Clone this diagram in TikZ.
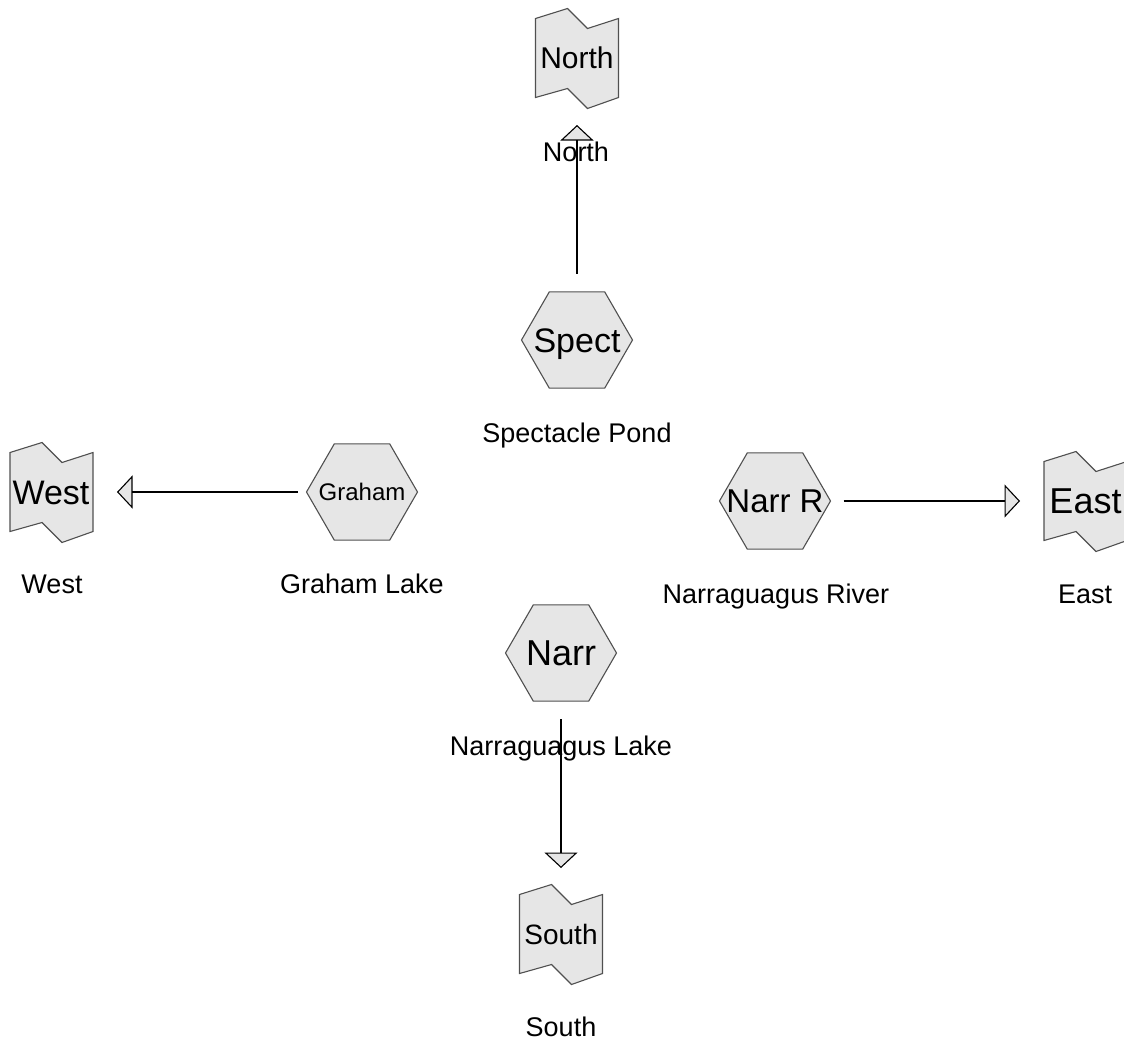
\documentclass[tikz,border=0pt]{standalone}
\usepackage{fontspec}
\setmainfont{Liberation Sans}
\usetikzlibrary{shapes.geometric,arrows.meta,backgrounds}
\definecolor{shapefill}{HTML}{E6E6E6}
\definecolor{shapeline}{HTML}{505050}
\newcommand\fs[1]{\fontsize{#1}{#1}\selectfont}
\newcommand\tapeoutline[1]{%
  \begin{pgfonlayer}{background}
  \filldraw[tapeline] ([shift={(-41.5,-39.5)}]#1.center) -- ([shift={(-9.5,-49.5)}]#1.center)
    -- ([shift={(10.5,-29.5)}]#1.center) -- ([shift={(41.5,-39.5)}]#1.center)
    -- ([shift={(41.5,39.5)}]#1.center) -- ([shift={(10.5,50.5)}]#1.center)
    -- ([shift={(-9.5,30.5)}]#1.center) -- ([shift={(-41.5,39.5)}]#1.center) -- cycle;
  \end{pgfonlayer}}
\begin{document}
\begin{tikzpicture}[x=1pt,y=-1pt,
  hex/.style={regular polygon, regular polygon sides=6, minimum size=111pt, inner sep=0pt, outer sep=0pt,
    draw=shapeline, fill=shapefill, line width=1.1pt},
  tape/.style={rectangle, minimum width=83pt, minimum height=79pt, inner sep=0pt, outer sep=0pt},
  tapeline/.style={draw=shapeline, fill=shapefill, line width=1.1pt, line join=miter},
  intext/.style={anchor=base, inner sep=0pt, text=black},
  lab/.style={anchor=base, inner sep=0pt, font=\fs{27}, text=black},
  flow/.style={line width=1.3pt, draw=black,
    -{Triangle[length=15.5pt, width=33pt, fill=shapefill, line width=1.1pt]}}
]
\useasboundingbox (0,0) rectangle (1124,1042);

% hexagons
\node[hex] (spect) at (577,340) {};
\node[intext, font=\fs{34}] (spectT) at (577,352.2) {Spect};
\node[lab] (spectL) at (577,442) {Spectacle Pond};

\node[hex] (graham) at (362,492) {};
\node[intext, font=\fs{24}] (grahamT) at (362,500.6) {Graham};
\node[lab] (grahamL) at (362,593) {Graham Lake};

\node[hex] (narrr) at (775,501) {};
\node[intext, font=\fs{33}] (narrrT) at (775,512.8) {Narr R};
\node[lab] (narrrL) at (776,603) {Narraguagus River};

\node[hex] (narr) at (561,653) {};
\node[intext, font=\fs{36}] (narrT) at (561,665.9) {Narr};
\node[lab] (narrL) at (561,755) {Narraguagus Lake};

% tape shapes
\node[tape] (north) at (577,58) {};
\tapeoutline{north}
\node[intext, font=\fs{30}] (northT) at (577,68.7) {North};
\node[lab] (northL) at (576,161) {North};

\node[tape] (west) at (51.5,492) {};
\tapeoutline{west}
\node[intext, font=\fs{34}] (westT) at (51,504.2) {West};
\node[lab] (westL) at (52,593) {West};

\node[tape] (east) at (1085.5,501) {};
\tapeoutline{east}
\node[intext, font=\fs{36}] (eastT) at (1085.5,513.9) {East};
\node[lab] (eastL) at (1085,603) {East};

\node[tape] (south) at (561,934) {};
\tapeoutline{south}
\node[intext, font=\fs{28}] (southT) at (561,944) {South};
\node[lab] (southL) at (561,1036) {South};

% connectors
\draw[flow, shorten <=18pt, shorten >=27.5pt] (spect.north) -- (north.south);
\draw[flow, shorten <=9pt, shorten >=24pt] (graham.west) -- (west.east);
\draw[flow, shorten <=13pt, shorten >=24pt] (narrr.east) -- (east.west);
\draw[flow, shorten <=18pt, shorten >=26.5pt] (narr.south) -- (south.north);
\end{tikzpicture}
\end{document}
